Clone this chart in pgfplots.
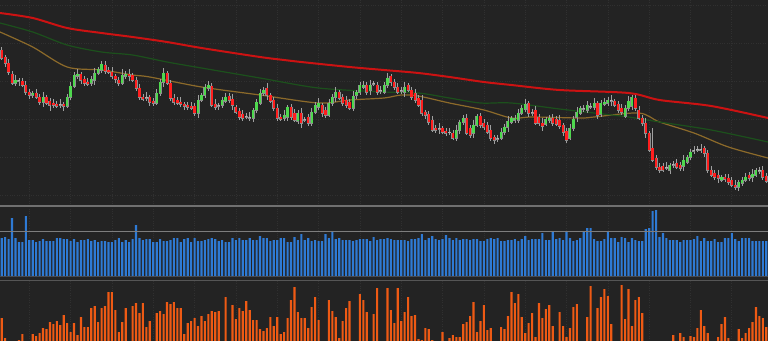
\documentclass[border=0pt]{standalone}
\usepackage{pgfplots}
\usepackage{pgfplotstable}
\pgfplotsset{compat=1.18}
\definecolor{bgc}{HTML}{232323}
\definecolor{gridc}{HTML}{303030}
\definecolor{upc}{HTML}{4ED84E}
\definecolor{dnc}{HTML}{FF1E1E}
\definecolor{wickc}{HTML}{A0A0A0}
\definecolor{volc}{HTML}{2E7AD4}
\definecolor{oscc}{HTML}{EE5A14}
\definecolor{maA}{HTML}{CC1212}
\definecolor{maB}{HTML}{1C501C}
\definecolor{maC}{HTML}{8C6A2A}

\pgfplotstableread{
i o c h l v q
0 50 58 47 60 38 23
1 57 63 55 67 39 3
2 63 72 59 75 37 0
3 74 83 71 85 58 0
4 83 80 75 86 38 0
5 80 81 78 86 34 1
6 81 85 78 87 34 7
7 85 92 81 95 60 0
8 92 95 89 99 36 0
9 95 93 91 98 36 7
10 93 97 89 99 34 5
11 97 102 94 105 35 8
12 102 97 92 107 37 13
13 97 103 95 105 35 12
14 101 105 98 111 35 19
15 103 105 99 108 35 17
16 104 106 101 108 38 20
17 105 104 99 108 38 16
18 104 106 102 111 37 26
19 106 97 94 108 37 18
20 97 86 82 100 35 9
21 86 75 72 88 37 18
22 76 74 69 79 34 6
23 74 80 72 84 36 24
24 79 83 76 86 36 14
25 82 84 78 86 37 14
26 83 79 76 86 35 33
27 80 73 68 85 36 35
28 73 69 67 75 34 19
29 70 64 61 73 35 33
30 65 71 61 74 35 35
31 70 72 67 74 34 49
32 72 76 67 79 34 49
33 76 79 74 83 36 31
34 80 83 77 86 38 9
35 83 75 69 85 34 19
36 76 74 71 79 36 33
37 74 76 69 81 34 0
38 75 80 73 82 37 35
39 80 88 77 91 51 38
40 88 97 84 100 38 28
41 97 99 94 101 36 38
42 98 97 92 101 37 14
43 97 102 95 106 37 20
44 101 103 98 106 34 0
45 103 93 89 105 34 28
46 93 82 79 96 37 30
47 82 73 68 87 35 27
48 73 83 71 85 35 39
49 83 98 80 101 36 37
50 98 102 94 105 38 39
51 100 103 97 105 38 33
52 102 104 97 107 34 33
53 104 106 102 110 37 7
54 105 107 102 110 38 18
55 106 108 102 110 34 20
56 106 113 103 116 38 23
57 113 100 95 118 35 15
58 100 95 93 102 35 25
59 95 87 84 98 36 20
60 88 85 81 91 37 27
61 86 105 83 107 38 30
62 104 107 99 110 37 29
63 106 105 103 110 35 30
64 105 100 97 108 36 0
65 101 97 93 103 34 44
66 96 100 93 103 34 0
67 99 105 94 110 38 36
68 107 112 105 114 36 22
69 111 117 108 120 38 33
70 114 118 110 121 36 30
71 116 117 113 119 36 40
72 117 118 112 121 38 31
73 118 110 108 122 36 21
74 110 102 99 113 36 21
75 103 93 89 105 40 12
76 93 90 87 96 38 10
77 88 95 83 100 38 13
78 95 101 93 103 35 24
79 100 108 97 111 36 15
80 108 118 104 121 36 24
81 117 119 114 121 38 7
82 118 115 110 121 38 9
83 117 107 105 121 34 23
84 107 117 104 120 34 41
85 113 120 109 122 39 54
86 121 113 110 124 36 29
87 113 123 108 128 42 23
88 119 120 117 122 36 23
89 117 123 114 126 38 13
90 123 112 108 126 35 34
91 112 105 102 114 36 44
92 107 103 98 110 35 21
93 105 113 103 117 35 0
94 110 115 107 118 42 0
95 115 103 99 117 38 41
96 103 97 94 106 45 30
97 97 92 87 102 37 24
98 92 98 90 100 38 3
99 97 103 94 106 36 20
100 100 105 96 108 36 33
101 102 108 99 110 36 40
102 108 96 91 111 35 0
103 95 92 90 99 36 0
104 92 85 82 95 37 47
105 87 85 81 89 37 41
106 85 92 82 95 37 29
107 90 85 80 95 35 0
108 84 83 81 86 39 27
109 85 92 82 95 36 53
110 90 91 86 94 37 0
111 92 85 82 94 37 0
112 85 78 73 88 38 53
113 76 82 74 86 37 31
114 82 87 79 90 36 18
115 87 92 83 94 36 53
116 91 90 87 94 36 20
117 92 87 82 97 36 29
118 85 90 83 92 35 44
119 90 97 87 100 37 25
120 93 100 89 103 37 26
121 98 105 95 107 38 2
122 100 113 95 116 42 1
123 112 115 110 119 36 13
124 114 122 111 125 38 12
125 120 130 116 132 40 1
126 128 130 125 133 37 0
127 129 128 123 134 36 0
128 128 132 126 134 37 9
129 131 133 128 136 41 0
130 132 132 128 135 38 3
131 133 138 130 140 36 6
132 138 130 125 141 38 4
133 130 122 120 134 36 4
134 122 118 115 125 37 17
135 118 133 114 135 37 19
136 128 135 125 138 36 25
137 133 125 120 138 37 39
138 125 116 114 127 37 9
139 116 125 113 128 35 20
140 123 127 119 130 35 36
141 125 132 122 134 37 11
142 130 138 125 141 38 13
143 137 140 135 144 37 0
144 138 139 135 142 38 0
145 138 132 128 140 35 14
146 132 127 124 135 35 12
147 127 121 116 132 36 25
148 122 118 116 124 36 49
149 120 118 115 123 37 38
150 120 113 109 123 35 47
151 113 108 105 115 37 24
152 109 104 99 112 40 8
153 103 113 101 117 36 18
154 113 112 109 116 37 28
155 110 123 106 125 37 4
156 117 123 114 126 37 38
157 123 126 118 131 43 23
158 124 119 117 126 36 32
159 120 118 115 123 36 36
160 118 123 114 126 45 15
161 119 124 116 126 37 0
162 120 126 115 129 38 29
163 125 132 123 136 36 15
164 131 140 128 143 44 4
165 138 128 124 140 38 13
166 128 119 116 131 35 34
167 117 112 107 122 36 37
168 113 108 106 115 38 0
169 108 109 105 112 44 0
170 110 105 101 113 48 24
171 106 107 103 109 48 55
172 107 103 98 110 37 0
173 103 115 101 119 35 33
174 114 103 100 117 35 44
175 104 102 98 106 37 52
176 103 100 97 106 45 45
177 100 101 95 106 38 17
178 101 105 99 107 38 0
179 104 110 101 113 34 0
180 108 112 104 115 39 56
181 116 108 105 118 38 22
182 108 101 96 111 34 52
183 106 97 95 110 38 15
184 98 108 95 111 36 41
185 110 118 106 120 35 44
186 118 123 115 126 35 28
187 123 133 118 138 47 0
188 133 150 131 152 48 0
189 148 160 128 162 65 0
190 158 167 155 170 66 0
191 167 170 163 173 39 0
192 166 170 163 172 43 0
193 168 167 162 170 38 0
194 170 165 163 174 36 0
195 164 165 161 168 36 6
196 163 167 159 169 36 0
197 165 168 162 171 34 8
198 166 160 155 171 36 4
199 162 157 155 164 36 0
200 157 152 149 160 36 5
201 151 150 146 154 37 4
202 149 150 146 152 40 13
203 150 149 144 153 35 31
204 148 153 146 157 38 15
205 153 170 150 173 35 8
206 170 175 166 177 35 0
207 173 177 170 180 37 0
208 175 178 170 183 34 4
209 180 177 175 182 34 17
210 177 179 174 182 38 24
211 178 182 174 185 38 3
212 180 185 177 187 43 0
213 185 187 180 190 37 0
214 187 182 180 191 35 12
215 183 180 177 186 38 3
216 180 177 173 182 38 8
217 175 178 172 181 38 13
218 177 174 169 182 35 19
219 175 170 168 177 35 34
220 170 171 167 174 35 25
221 170 177 166 180 35 23
222 176 181 173 183 35 14
}\data

\pgfplotsset{
  panel/.style={
    scale only axis, width=768bp, xmin=-0.5, xmax=222.5,
    anchor=north west,
    axis line style={draw=none}, major tick length=0pt,
    xticklabels={}, yticklabels={},
    xtick={8,20,...,212}, xmajorgrids,
    grid style={gridc, dotted, line width=0.7bp},
  },
  candle/.style={mark=none, draw=none, forget plot,
    error bars/.cd, y dir=plus, y explicit, error mark=none,
    error bar style={draw=#1, line width=2.3bp}},
  candlebg/.style={mark=none, draw=none, forget plot,
    error bars/.cd, y dir=plus, y explicit, error mark=none,
    error bar style={draw=#1, line width=3.0bp}},
}

\begin{document}
\begin{tikzpicture}
\fill[bgc] (0,0) rectangle (768bp,-341bp);

% ---------------- price panel ----------------
\begin{axis}[panel, at={(0,0)}, height=206bp, ymin=0, ymax=206, y dir=reverse,
  ytick={5,43,81,119,157,195}, ymajorgrids]
\addplot[maC, line width=1.2bp, smooth, tension=0.5] coordinates {
(-0.5,32) (9,47) (19,67) (29,70) (38,75) (43,77) (58,87) (75,95) (92,103) (101,100)
(111,98) (116,95) (121,96) (130,103) (140,110) (148,118) (154,117) (168,118) (172,117)
(185,113) (191,122) (201,133) (211,147) (222.5,158)};
\addplot[maB, line width=1.2bp, smooth, tension=0.5] coordinates {
(-0.5,23) (9,32) (19,45) (29,52) (38,55) (48,62) (58,68) (75,78) (92,88) (111,92)
(121,93) (130,98) (139,103) (148,103) (162,109) (172,113) (182,117) (191,122)
(206,130) (222.5,142)};
\addplot[maA, line width=2.0bp, smooth, tension=0.5] coordinates {
(-0.5,13) (9,18) (19,28) (29,33) (38,37) (48,42) (58,48) (75,57) (82,60) (87,62)
(101,67) (111,70) (121,73) (130,77) (140,82) (148,85) (162,90) (182,93) (191,100)
(206,106) (222.5,118)};
% wicks
\addplot[mark=none, draw=none, forget plot,
  error bars/.cd, y dir=plus, y explicit, error mark=none,
  error bar style={draw=wickc, line width=0.7bp}]
  table[x=i, y=h, y error expr=\thisrow{l}-\thisrow{h}] {\data};
% body outlines
\addplot[candlebg=wickc!85!bgc]
  table[x=i, y expr={min(\thisrow{o},\thisrow{c})-0.5},
        y error expr={abs(\thisrow{c}-\thisrow{o})+1.0}] {\data};
% down candles
\addplot[restrict expr to domain={\thisrow{c}-\thisrow{o}}{1.5:1000}, candle=dnc]
  table[x=i, y expr={min(\thisrow{o},\thisrow{c})},
        y error expr={abs(\thisrow{c}-\thisrow{o})}] {\data};
% up candles
\addplot[restrict expr to domain={\thisrow{o}-\thisrow{c}}{1.5:1000}, candle=upc]
  table[x=i, y expr={min(\thisrow{o},\thisrow{c})},
        y error expr={abs(\thisrow{c}-\thisrow{o})}] {\data};
% doji
\addplot[restrict expr to domain={\thisrow{c}-\thisrow{o}}{-1.5:1.5}, candle=wickc!80!white]
  table[x=i, y expr={min(\thisrow{o},\thisrow{c})-0.3},
        y error expr={abs(\thisrow{c}-\thisrow{o})+0.6}] {\data};
\end{axis}

% ---------------- volume panel ----------------
\begin{axis}[panel, at={(0,-206bp)}, height=70bp, ymin=0, ymax=70,
  ybar, bar width=0.62, bar shift=0pt]
\addplot[fill=volc, draw=none] table[x=i, y=v] {\data};
\end{axis}

% ---------------- oscillator panel ----------------
\begin{axis}[panel, at={(0,-280bp)}, height=61bp, ymin=0, ymax=61,
  ybar, bar width=0.62, bar shift=0pt]
\addplot[fill=oscc, draw=none] table[x=i, y=q] {\data};
\end{axis}

% panel separators
\draw[line width=1.4bp, color={rgb,255:red,112;green,112;blue,112}] (0,-206bp) -- (768bp,-206bp);
\draw[line width=1.2bp, color={rgb,255:red,125;green,125;blue,125}] (0,-231.5bp) -- (768bp,-231.5bp);
\draw[line width=1.2bp, color={rgb,255:red,70;green,74;blue,82}] (0,-276.5bp) -- (768bp,-276.5bp);
\draw[line width=1.2bp, color={rgb,255:red,85;green,85;blue,85}] (0,-280.5bp) -- (768bp,-280.5bp);

\pgfresetboundingbox
\path[use as bounding box] (0,0) rectangle (768bp,-341bp);
\end{tikzpicture}
\end{document}
